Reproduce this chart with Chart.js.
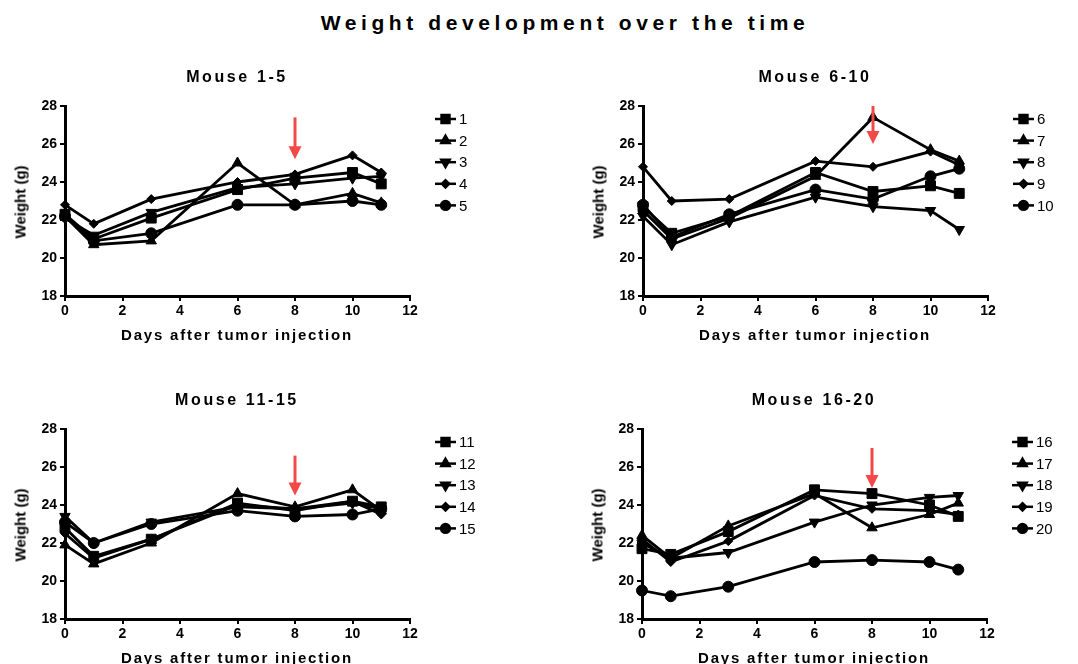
<!DOCTYPE html>
<html>
<head>
<meta charset="utf-8">
<script src="https://cdn.jsdelivr.net/npm/chart.js@4.4.0/dist/chart.umd.min.js"></script>
<style>
    body { margin: 0; background: #fff; width: 1078px; height: 664px; position: relative; overflow: hidden;
           font-family: "Liberation Sans", Arial, sans-serif; }
    canvas { position: absolute; }
    .t { position: absolute; font-weight: bold; color: #000; white-space: nowrap; transform: translate(-50%, -50%); }
    #main { left: 565px; top: 23px; font-size: 21px; letter-spacing: 4.6px; }
    .sub { font-size: 16px; letter-spacing: 2.6px; }
    .xt { font-size: 15px; letter-spacing: 1.8px; }
    .yt { font-size: 15px; transform: translate(-50%, -50%) rotate(-90deg); }
</style>
</head>
<body>
<div class="t" id="main">Weight development over the time</div>

<script>
// days after tumor injection
var days = [0, 1, 3, 6, 8, 10, 11];

// weights (g), one array per mouse
var mouse1  = [22.3, 21.0, 22.1, 23.6, 24.2, 24.5, 23.9];
var mouse2  = [22.2, 20.7, 20.9, 25.0, 22.8, 23.4, 22.9];
var mouse3  = [22.1, 21.2, 22.4, 23.7, 23.9, 24.2, 24.3];
var mouse4  = [22.8, 21.8, 23.1, 24.0, 24.4, 25.4, 24.5];
var mouse5  = [22.2, 20.9, 21.3, 22.8, 22.8, 23.0, 22.8];

var mouse6  = [22.7, 21.3, 22.2, 24.5, 23.5, 23.8, 23.4];
var mouse7  = [22.5, 21.0, 22.1, 24.3, 27.4, 25.7, 25.1];
var mouse8  = [22.2, 20.7, 21.9, 23.2, 22.7, 22.5, 21.5];
var mouse9  = [24.8, 23.0, 23.1, 25.1, 24.8, 25.6, 24.9];
var mouse10 = [22.8, 21.1, 22.3, 23.6, 23.1, 24.3, 24.7];

var mouse11 = [22.8, 21.3, 22.2, 24.1, 23.7, 24.2, 23.9];
var mouse12 = [21.9, 20.9, 22.0, 24.6, 23.9, 24.8, 23.7];
var mouse13 = [23.4, 22.0, 23.1, 23.9, 23.8, 24.1, 23.8];
var mouse14 = [22.5, 21.2, 22.2, 24.0, 23.8, 24.2, 23.5];
var mouse15 = [23.1, 22.0, 23.0, 23.7, 23.4, 23.5, 23.8];

var mouse16 = [21.7, 21.4, 22.6, 24.8, 24.6, 24.0, 23.4];
var mouse17 = [22.4, 21.2, 22.9, 24.6, 22.8, 23.5, 24.1];
var mouse18 = [22.0, 21.2, 21.5, 23.1, 24.0, 24.4, 24.5];
var mouse19 = [22.2, 21.0, 22.1, 24.5, 23.8, 23.7, 23.5];
var mouse20 = [19.5, 19.2, 19.7, 21.0, 21.1, 21.0, 20.6];

var panelTitles = ['Mouse 1-5', 'Mouse 6-10', 'Mouse 11-15', 'Mouse 16-20'];
var panelLabels = [['1', '2', '3', '4', '5'], ['6', '7', '8', '9', '10'],
                   ['11', '12', '13', '14', '15'], ['16', '17', '18', '19', '20']];
var panelSeries = [[mouse1, mouse2, mouse3, mouse4, mouse5],
                   [mouse6, mouse7, mouse8, mouse9, mouse10],
                   [mouse11, mouse12, mouse13, mouse14, mouse15],
                   [mouse16, mouse17, mouse18, mouse19, mouse20]];

// red arrows (day, top, tip in grams)
var arrowDay = [8, 8, 8, 8];
var arrowTop = [27.4, 28.0, 26.6, 27.0];
var arrowTip = [25.2, 26.0, 24.5, 24.9];

var xTitle = 'Days after tumor injection';
var yTitle = 'Weight (g)';

// layout: chart area top-left corner of each panel
var areaLeft = [65, 643, 65, 642];
var areaTop = [106, 106, 429, 429];
var areaW = 345, areaH = 191;

var markers = [
    { style: 'rect', r: 7, rot: 0 },
    { style: 'triangle', r: 6, rot: 0 },
    { style: 'triangle', r: 6, rot: 180 },
    { style: 'rectRot', r: 4.5, rot: 0 },
    { style: 'circle', r: 5.5, rot: 0 }
];

var FONT = '"Liberation Sans", Arial, sans-serif';

var lineLegend = {
    id: 'lineLegend',
    afterDraw: function(chart) {
        var ctx = chart.ctx, a = chart.chartArea;
        chart.data.datasets.forEach(function(ds, i) {
            var y = a.top + 13 + i * 21.6;
            var x0 = a.right + 25;
            ctx.save();
            ctx.strokeStyle = '#000';
            ctx.fillStyle = '#000';
            ctx.lineWidth = 2.5;
            ctx.beginPath();
            ctx.moveTo(x0, y);
            ctx.lineTo(x0 + 21, y);
            ctx.stroke();
            Chart.helpers.drawPoint(ctx, {
                pointStyle: ds.pointStyle,
                rotation: ds.pointRotation,
                radius: ds.pointRadius * 0.8,
                borderWidth: 1
            }, x0 + 10.5, y);
            ctx.font = '15px ' + FONT;
            ctx.textBaseline = 'middle';
            ctx.textAlign = 'left';
            ctx.fillText(ds.label, x0 + 24, y + 1);
            ctx.restore();
        });
    }
};

var doseArrow = {
    id: 'doseArrow',
    afterDatasetsDraw: function(chart, args, opts) {
        var i = opts.index;
        var ctx = chart.ctx;
        var x = chart.scales.x.getPixelForValue(arrowDay[i]);
        var yt = chart.scales.y.getPixelForValue(arrowTop[i]);
        var yb = chart.scales.y.getPixelForValue(arrowTip[i]);
        ctx.save();
        ctx.strokeStyle = '#f44848';
        ctx.fillStyle = '#f44848';
        ctx.lineWidth = 3;
        ctx.beginPath();
        ctx.moveTo(x, yt);
        ctx.lineTo(x, yb - 12);
        ctx.stroke();
        ctx.beginPath();
        ctx.moveTo(x - 6.5, yb - 13);
        ctx.lineTo(x + 6.5, yb - 13);
        ctx.lineTo(x, yb);
        ctx.closePath();
        ctx.fill();
        ctx.restore();
    }
};

function addText(cls, txt, x, y) {
    var d = document.createElement('div');
    d.className = 't ' + cls;
    d.textContent = txt;
    d.style.left = x + 'px';
    d.style.top = y + 'px';
    document.body.appendChild(d);
}

panelSeries.forEach(function(series, p) {
    var cv = document.createElement('canvas');
    cv.width = 500;
    cv.height = 290;
    cv.style.left = (areaLeft[p] - 65) + 'px';
    cv.style.top = (areaTop[p] - 50) + 'px';
    document.body.appendChild(cv);

    addText('sub', panelTitles[p], areaLeft[p] + 172, areaTop[p] - 29);
    addText('xt', xTitle, areaLeft[p] + 172, areaTop[p] + areaH + 37);
    addText('yt', yTitle, areaLeft[p] - 45, areaTop[p] + 96);

    var datasets = series.map(function(vals, k) {
        var m = markers[k];
        return {
            label: panelLabels[p][k],
            data: days.map(function(d, j) { return { x: d, y: vals[j] }; }),
            borderColor: '#000',
            backgroundColor: '#000',
            borderWidth: 2.8,
            pointStyle: m.style,
            pointRadius: m.r,
            pointRotation: m.rot,
            pointBackgroundColor: '#000',
            pointBorderColor: '#000',
            pointBorderWidth: 1,
            tension: 0,
            clip: false
        };
    });

    new Chart(cv, {
        type: 'line',
        data: { datasets: datasets },
        options: {
            responsive: false,
            animation: false,
            devicePixelRatio: 1,
            layout: { padding: { top: 50, right: 90, left: 0, bottom: 0 } },
            plugins: {
                legend: { display: false },
                title: { display: false },
                tooltip: { enabled: false },
                doseArrow: { index: p }
            },
            scales: {
                x: {
                    type: 'linear',
                    min: 0,
                    max: 12,
                    ticks: { stepSize: 2, color: '#000', padding: 2, maxRotation: 0,
                             font: { family: FONT, size: 14, weight: 'bold' } },
                    grid: { drawOnChartArea: false, drawTicks: true, tickLength: 5, color: '#000', lineWidth: 2 },
                    border: { color: '#000', width: 3 },
                    afterFit: function(s) { s.height = 50; }
                },
                y: {
                    min: 18,
                    max: 28,
                    ticks: { stepSize: 2, color: '#000', padding: 3,
                             font: { family: FONT, size: 14, weight: 'bold' } },
                    grid: { drawOnChartArea: false, drawTicks: true, tickLength: 5, color: '#000', lineWidth: 2 },
                    border: { color: '#000', width: 3 },
                    afterFit: function(s) { s.width = 65; }
                }
            }
        },
        plugins: [lineLegend, doseArrow]
    });
});
</script>
</body>
</html>
